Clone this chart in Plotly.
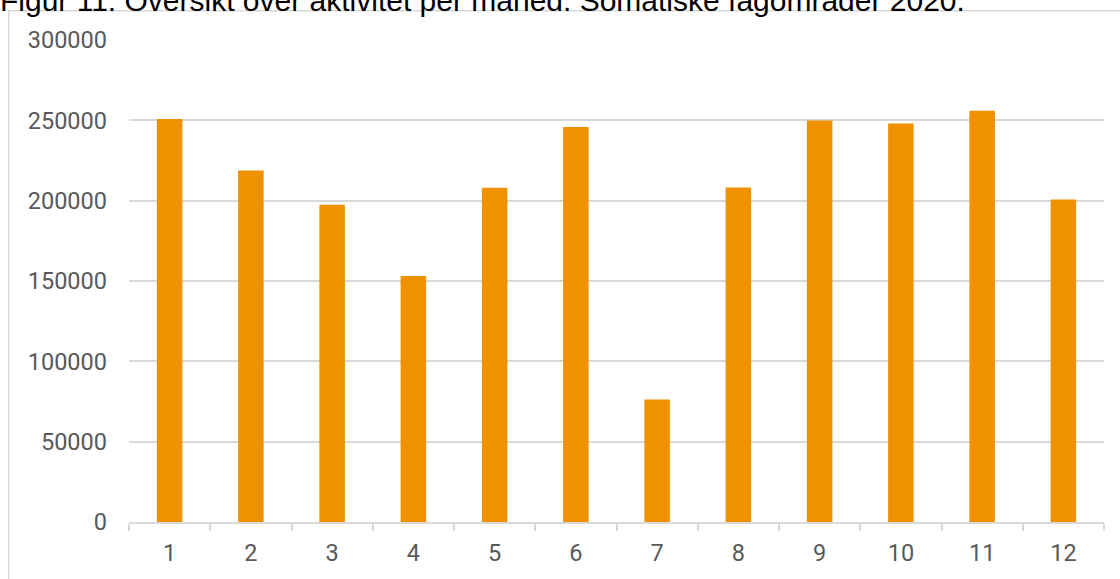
import plotly.graph_objects as go

months = ["1", "2", "3", "4", "5", "6", "7", "8", "9", "10", "11", "12"]
activity = [250800, 218800, 197500, 153100, 208000, 245800, 76300, 208200, 249900, 248000, 255900, 200800]
y_ticks = [0, 50000, 100000, 150000, 200000, 250000, 300000]
title_text = "Figur 11: Oversikt over aktivitet per måned. Somatiske fagområder 2020."

W, H = 1120, 579
L, R, T, B = 129.3, 1104, 39.5, 524.3
pw, ph = R - L, B - T

def px(x):
    return (x - L) / pw

def py(y):
    return (B - y) / ph

fig = go.Figure()
fig.add_trace(go.Bar(
    x=months, y=activity,
    marker=dict(color="#F09100", line=dict(width=0)),
    width=0.314,
))

fig.update_layout(
    width=W, height=H,
    margin=dict(l=L, r=W - R, t=T, b=H - B, pad=0),
    paper_bgcolor="white", plot_bgcolor="white",
    showlegend=False,
    font=dict(family="Roboto", color="#595959", size=23.5),
    xaxis=dict(
        type="category",
        showline=True, linecolor="#d9d9d9", linewidth=1.5,
        ticks="outside", tickson="boundaries", ticklen=7, tickcolor="#d9d9d9", tickwidth=1.5,
        showgrid=False,
        tickfont=dict(family="Roboto", size=23.5, color="#595959"),
        ticklabelstandoff=9,
    ),
    yaxis=dict(
        range=[0, 300000], tickvals=y_ticks, ticktext=[str(v) for v in y_ticks],
        showgrid=True, gridcolor="#d9d9d9", gridwidth=1.5,
        showline=False, zeroline=False, ticks="",
        tickfont=dict(family="Roboto", size=23.5, color="#595959"),
        ticklabelstandoff=21,
    ),
    shapes=[dict(
        type="rect", xref="paper", yref="paper",
        x0=px(9), x1=px(1130), y0=py(590), y1=py(10),
        line=dict(color="#d9d9d9", width=1.5), fillcolor="rgba(0,0,0,0)", layer="below",
    )],
    annotations=[dict(
        text=title_text, xref="paper", yref="paper",
        x=px(-2), y=py(18), xanchor="left", yanchor="bottom",
        showarrow=False,
        font=dict(family="Liberation Sans", size=30, color="#000000"),
    )],
)

fig.write_html("out.html")
